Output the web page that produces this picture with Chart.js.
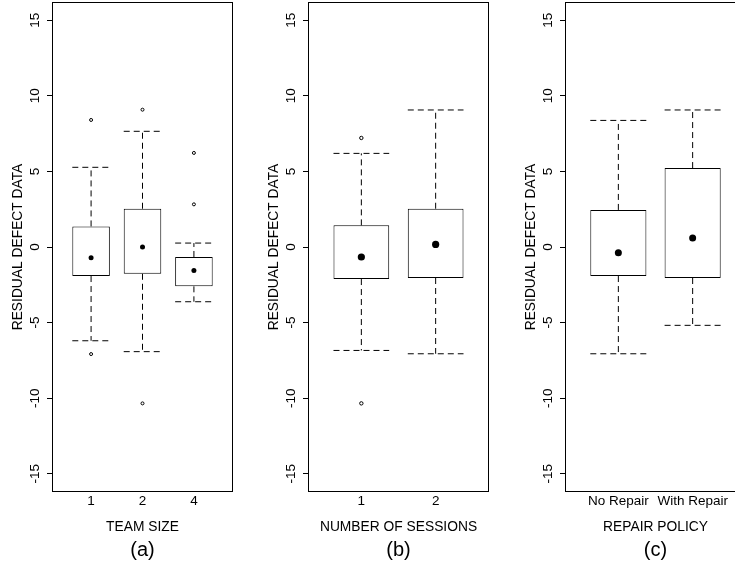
<!DOCTYPE html>
<html><head><meta charset="utf-8">
<script src="https://cdn.jsdelivr.net/npm/chart.js@4.4.1/dist/chart.umd.min.js"></script>
<style>
html,body{margin:0;padding:0;background:#fff;overflow:hidden;width:735px;height:569px;}
canvas{position:absolute;top:0;}
</style></head><body>
<canvas id="pa" width="245" height="569" style="left:0px"></canvas>
<canvas id="pb" width="245" height="569" style="left:245px"></canvas>
<canvas id="pc" width="260" height="569" style="left:490px"></canvas>
<script>
// ---- data ----
const yTicks = [-15, -10, -5, 0, 5, 10, 15];
const yLabel = 'RESIDUAL DEFECT DATA';

// (a) TEAM SIZE
const teamCats = ['1', '2', '4'];
const teamQ1 = [-1.92, -1.77, -2.6];
const teamQ3 = [1.36, 2.53, -0.66];
const teamMed = [-0.71, 0.0, -1.55];
const teamLo = [-6.2, -6.92, -3.62];
const teamHi = [5.27, 7.65, 0.26];
const teamOut = [[8.4, -7.08], [9.08, -10.34], [6.22, 2.82]];

// (b) NUMBER OF SESSIONS
const sessCats = ['1', '2'];
const sessQ1 = [-2.12, -2.05];
const sessQ3 = [1.43, 2.53];
const sessMed = [-0.66, 0.17];
const sessLo = [-6.84, -7.06];
const sessHi = [6.19, 9.06];
const sessOut = [[7.21, -10.34], []];

// (c) REPAIR POLICY
const repCats = ['No Repair', 'With Repair'];
const repQ1 = [-1.92, -2.05];
const repQ3 = [2.45, 5.22];
const repMed = [-0.38, 0.6];
const repLo = [-7.06, -5.18];
const repHi = [8.37, 9.06];
const repOut = [[], []];

// ---- drawing ----
const FONT = '"Liberation Sans", Arial, Helvetica, sans-serif';

const framePlugin = {
  id: 'frame',
  afterDraw(chart) {
    const {ctx, chartArea: a} = chart;
    ctx.save();
    ctx.strokeStyle = '#000';
    ctx.lineWidth = 1;
    const l = Math.round(a.left), t = Math.round(a.top), r = Math.round(a.right), b = Math.round(a.bottom);
    ctx.strokeRect(l + 0.5, t + 0.5, r - l - 1, b - t - 1);
    ctx.restore();
  }
};

function noPad(s) {
  s.paddingLeft = 0; s.paddingRight = 0; s.paddingTop = 0; s.paddingBottom = 0;
}

function makePanel(id, cfg) {
  const {cats, q1, q3, med, lo, hi, out, xTitle, tag, xMin, xMax, boxW, medR, outR, padL, padR} = cfg;
  const xs = cats.map((c, i) => i + 1);
  const half = boxW / 2;
  const boxes = xs.map((x, i) => ({x, y: [q1[i], q3[i]]}));
  const medians = xs.map((x, i) => ({x, y: med[i]}));
  const outliers = [];
  xs.forEach((x, i) => out[i].forEach(v => outliers.push({x, y: v})));
  const whisk = [];
  const gap = x => ({x, y: null});
  xs.forEach((x, i) => {
    whisk.push({x, y: q3[i]}, {x, y: hi[i]}, gap(x),
      {x: x - half, y: hi[i]}, {x: x + half, y: hi[i]}, gap(x),
      {x, y: q1[i]}, {x, y: lo[i]}, gap(x),
      {x: x - half, y: lo[i]}, {x: x + half, y: lo[i]}, gap(x));
  });

  new Chart(document.getElementById(id), {
    type: 'bar',
    data: {
      datasets: [
        {type: 'line', data: medians, showLine: false, pointRadius: medR, pointHoverRadius: medR,
         pointBackgroundColor: '#000', pointBorderColor: '#000', pointBorderWidth: 0},
        {type: 'line', data: outliers, showLine: false, pointRadius: outR, pointHoverRadius: outR,
         pointBackgroundColor: '#fff', pointBorderColor: '#000', pointBorderWidth: 1},
        {type: 'bar', data: boxes, backgroundColor: '#fff', borderColor: '#000', borderWidth: 1,
         borderSkipped: false, barPercentage: boxW, categoryPercentage: 1},
        {type: 'line', data: whisk, borderColor: '#000', borderWidth: 1, borderDash: [6, 4],
         pointRadius: 0, pointHoverRadius: 0, spanGaps: false, fill: false, tension: 0}
      ]
    },
    options: {
      responsive: false, animation: false, devicePixelRatio: 1,
      events: [],
      layout: {autoPadding: false, padding: {left: padL, right: padR, top: 2, bottom: 0}},
      plugins: {
        legend: {display: false},
        tooltip: {enabled: false},
        title: {display: true, text: tag, position: 'bottom', fullSize: false, color: '#000',
                font: {family: FONT, size: 20, weight: 'normal'}, padding: {top: 0, bottom: 7}}
      },
      scales: {
        x: {
          type: 'linear', min: xMin, max: xMax, offset: false,
          afterBuildTicks: s => { s.ticks = xs.map(v => ({value: v})); },
          afterFit: s => { s.height = 46; noPad(s); },
          grid: {display: false, drawTicks: false},
          border: {display: false},
          ticks: {autoSkip: false, maxRotation: 0, minRotation: 0, padding: 1, color: '#000',
                  font: {family: FONT, size: 13.5}, callback: v => cats[v - 1] ?? ''},
          title: {display: true, text: xTitle, color: '#000', font: {family: FONT, size: 13.8},
                  padding: {top: 0, bottom: 2.7}}
        },
        y: {
          type: 'linear', min: -16.2, max: 16.2,
          afterBuildTicks: s => { s.ticks = yTicks.map(v => ({value: v})); },
          afterFit: s => { s.width = 45; noPad(s); },
          grid: {drawOnChartArea: false, drawTicks: true, tickLength: 5, color: '#000', lineWidth: 1},
          border: {display: false},
          ticks: {minRotation: 90, maxRotation: 90, crossAlign: 'center', padding: 2.25, color: '#000',
                  font: {family: FONT, size: 13.5}, callback: v => String(v)},
          title: {display: true, text: yLabel, color: '#000', font: {family: FONT, size: 13.8},
                  padding: {top: 3.1, bottom: 0}}
        }
      }
    },
    plugins: [framePlugin]
  });
}

makePanel('pa', {cats: teamCats, q1: teamQ1, q3: teamQ3, med: teamMed, lo: teamLo, hi: teamHi, out: teamOut,
  xTitle: 'TEAM SIZE', tag: '(a)', xMin: 0.24, xMax: 3.76, boxW: 0.73, medR: 2.5, outR: 1.5, padL: 7, padR: 12});
makePanel('pb', {cats: sessCats, q1: sessQ1, q3: sessQ3, med: sessMed, lo: sessLo, hi: sessHi, out: sessOut,
  xTitle: 'NUMBER OF SESSIONS', tag: '(b)', xMin: 0.282, xMax: 2.718, boxW: 0.75, medR: 3.6, outR: 1.7, padL: 18, padR: 1});
makePanel('pc', {cats: repCats, q1: repQ1, q3: repQ3, med: repMed, lo: repLo, hi: repHi, out: repOut,
  xTitle: 'REPAIR POLICY', tag: '(c)', xMin: 0.282, xMax: 2.718, boxW: 0.755, medR: 3.5, outR: 1.7, padL: 30, padR: 4});
</script>
</body></html>
